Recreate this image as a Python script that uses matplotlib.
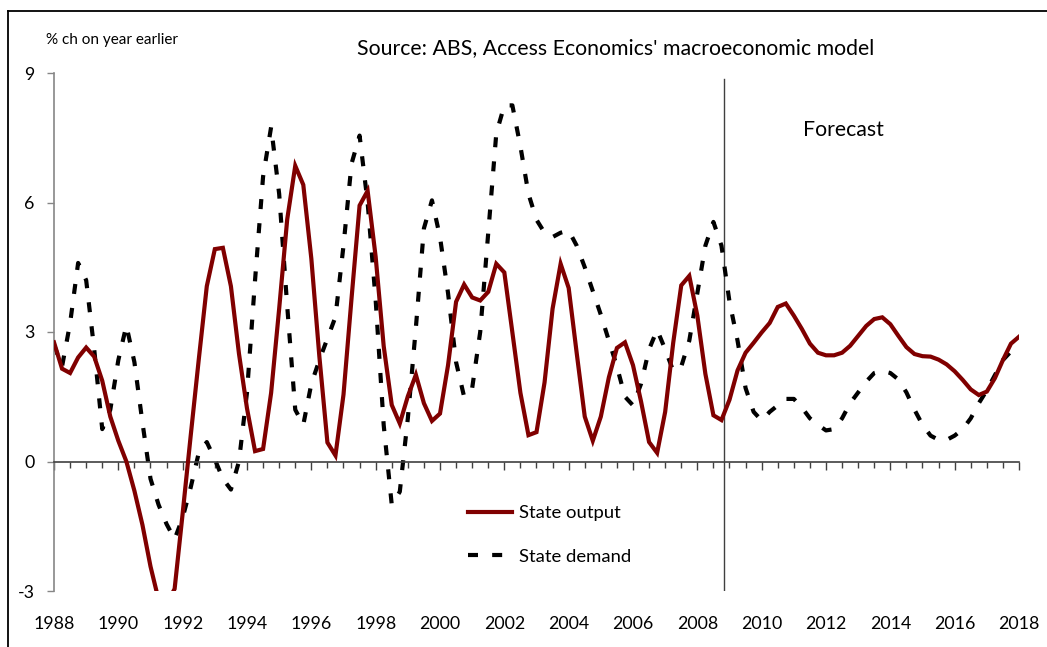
import numpy as np
import matplotlib
matplotlib.use("Agg")
import matplotlib.pyplot as plt
from matplotlib.transforms import blended_transform_factory

plt.rcParams['font.family'] = ['Lato', 'DejaVu Sans']

start_year = 1988
state_output = [
    2.76, 2.15, 2.05, 2.41, 2.64, 2.43, 1.87, 1.04, 0.48, 0.00, -0.68, -1.47, -2.43, -3.20, -3.30, -2.95,
    -1.20, 0.60, 2.36, 4.06, 4.92, 4.95, 4.06, 2.50, 1.23, 0.24, 0.29, 1.59, 3.54, 5.61, 6.85,
    6.41, 4.70, 2.43, 0.44, 0.14, 1.55, 3.78, 5.93, 6.27, 4.74, 2.67, 1.31, 0.88, 1.51, 2.01,
    1.35, 0.94, 1.11, 2.23, 3.70, 4.10, 3.80, 3.73, 3.93, 4.58, 4.38, 2.99, 1.59, 0.61, 0.68,
    1.83, 3.54, 4.58, 4.02, 2.51, 1.04, 0.48, 1.04, 1.95, 2.63, 2.76, 2.23, 1.39, 0.45, 0.20,
    1.15, 2.75, 4.08, 4.30, 3.38, 2.03, 1.07, 0.96, 1.43, 2.11, 2.52, 2.75, 2.99, 3.21, 3.58,
    3.66, 3.38, 3.07, 2.73, 2.52, 2.46, 2.46, 2.52, 2.68, 2.91, 3.14, 3.30, 3.34, 3.18, 2.91,
    2.65, 2.49, 2.44, 2.43, 2.36, 2.25, 2.09, 1.89, 1.67, 1.54, 1.62, 1.93, 2.35, 2.73, 2.89,
]
state_demand = [
    2.70, 2.20, 3.20, 4.60, 4.20, 2.60, 0.75, 1.20, 2.35, 3.15, 2.30, 0.90, -0.40, -1.00, -1.45, -1.80,
    -1.30, -0.60, 0.20, 0.45, 0.05, -0.40, -0.65, 0.00, 1.60, 4.20, 6.60, 7.75, 6.20, 3.60, 1.20,
    0.85, 1.80, 2.35, 2.85, 3.35, 5.00, 6.90, 7.55, 6.00, 3.74, 0.84, -1.00, -0.70, 1.00, 3.10,
    5.40, 6.05, 5.20, 3.90, 2.30, 1.50, 1.70, 3.00, 5.30, 7.60, 8.25, 8.25, 7.30, 6.20, 5.60,
    5.30, 5.20, 5.30, 5.35, 5.00, 4.50, 3.95, 3.40, 2.80, 2.20, 1.50, 1.30, 1.80, 2.60, 3.05,
    2.60, 2.10, 2.20, 2.80, 3.90, 5.00, 5.55, 5.00, 3.70, 2.80, 1.70, 1.15, 0.95, 1.15, 1.30,
    1.45, 1.45, 1.25, 1.00, 0.85, 0.72, 0.75, 1.00, 1.35, 1.60, 1.85, 2.05, 2.10, 2.05, 1.90,
    1.60, 1.20, 0.85, 0.60, 0.50, 0.50, 0.60, 0.75, 1.00, 1.35, 1.65, 2.00, 2.35, 2.55, 2.55,
]
year_labels = [str(y) for y in range(1988, 2019, 2)]
y_ticks = [-3, 0, 3, 6, 9]
forecast_start = 2008.83

W, H = 1047, 647
fig = plt.figure(figsize=(W / 100, H / 100), dpi=100)
ax = fig.add_axes([54 / W, 1 - 591 / H, (1019 - 54) / W, (591 - 73) / H])

x = start_year + np.arange(len(state_output)) / 4.0
ax.plot(x, state_output, color='#800000', lw=3.0, solid_joinstyle='miter',
        label='State output', zorder=3)
ax.plot(x, state_demand, color='black', lw=3.0, dashes=(2.4, 3.4),
        label='State demand', zorder=2)

ax.set_xlim(1988, 2018)
ax.set_ylim(-3, 9)

# Forecast divider
ax.plot([forecast_start, forecast_start], [-3, 8.85], color='#404040', lw=1.0, zorder=1)

# Spines
for s in ['top', 'right']:
    ax.spines[s].set_visible(False)
ax.spines['left'].set_color('#868686')
ax.spines['left'].set_linewidth(1.2)
ax.spines['bottom'].set_position(('data', 0))
ax.spines['bottom'].set_color('#404040')
ax.spines['bottom'].set_linewidth(1.2)

ax.set_yticks(y_ticks)
ax.set_yticklabels([str(v) for v in y_ticks], fontsize=12.8)
ax.tick_params(axis='y', direction='out', length=5, width=1, color='#868686', pad=9)

ax.set_xticks([int(l) for l in year_labels])
ax.set_xticks(np.arange(1988, 2018.01, 0.5), minor=True)
ax.set_xticklabels([])
ax.tick_params(axis='x', which='major', direction='out', length=6, width=1, color='#404040')
ax.tick_params(axis='x', which='minor', direction='out', length=4, width=1, color='#404040')

trans = blended_transform_factory(ax.transData, ax.transAxes)
for lab in year_labels:
    ax.text(int(lab), -0.064, lab, transform=trans, ha='center', va='center', fontsize=12.8)

# Texts
fig.text(46 / W, 1 - 40 / H, '% ch on year earlier', fontsize=11, ha='left', va='center')
fig.text(616 / W, 1 - 48 / H, "Source: ABS, Access Economics' macroeconomic model",
         fontsize=15.3, ha='center', va='center')
fig.text(843 / W, 1 - 130 / H, 'Forecast', fontsize=15.3, ha='center', va='center')

leg = ax.legend(loc='upper left', bbox_to_anchor=(468 / W, 1 - 505 / H),
                bbox_transform=fig.transFigure, frameon=False, fontsize=13.3,
                handlelength=2.38, handletextpad=0.38, labelspacing=1.5,
                borderaxespad=0, borderpad=0)

# Outer border (top and left only visible)
fig.add_artist(plt.Line2D([8 / W, 1], [1 - 11 / H, 1 - 11 / H], color='black', lw=1.3,
                          transform=fig.transFigure))
fig.add_artist(plt.Line2D([8 / W, 8 / W], [0, 1 - 11 / H], color='black', lw=1.3,
                          transform=fig.transFigure))

fig.savefig('out.png', dpi=100, facecolor='white')
